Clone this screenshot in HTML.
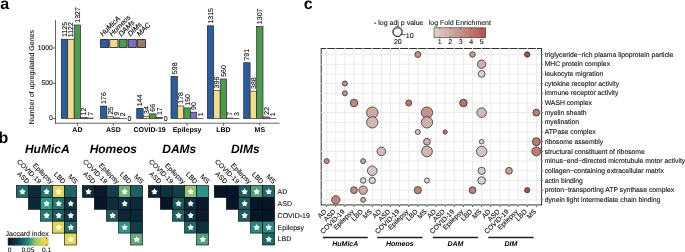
<!DOCTYPE html>
<html><head><meta charset="utf-8"><style>
html,body{margin:0;padding:0;background:#fff;}
body{width:685px;height:252px;overflow:hidden;}
svg{display:block;will-change:transform;}
text{font-family:"Liberation Sans", sans-serif;fill:#1a1a1a;text-rendering:geometricPrecision;}
.lbl{font-size:16px;font-weight:bold;fill:#000;}
.tick{font-size:6.8px;fill:#111;stroke:#111;stroke-width:0.1px;}
.bl{font-size:7px;fill:#000;stroke:#111;stroke-width:0.1px;}
.t7{font-size:7px;fill:#111;stroke:#111;stroke-width:0.1px;}
.t65{font-size:6.5px;fill:#111;stroke:#111;stroke-width:0.1px;}
.t68{font-size:6.8px;fill:#111;stroke:#111;stroke-width:0.1px;}
.xl{font-size:7px;font-weight:bold;fill:#000;}
.bt{font-size:12px;font-weight:bold;font-style:italic;fill:#000;}
.bi7{font-size:7px;font-weight:bold;font-style:italic;fill:#000;}
.it7{font-size:7.2px;font-style:italic;fill:#000;stroke:#000;stroke-width:0.12px;}
.ax{stroke:#222;stroke-width:0.7;}
.gr{stroke:#EAEAEA;stroke-width:1;}
</style></head>
<body><svg width="685" height="252" viewBox="0 0 685 252">
<text x="0.3" y="8.7" class="lbl">a</text>
<line x1="55.5" y1="20" x2="55.5" y2="123.7" class="ax"/>
<line x1="55.0" y1="123.2" x2="279.5" y2="123.2" class="ax"/>
<line x1="53" y1="118.50" x2="55.5" y2="118.50" class="ax"/>
<text x="52.8" y="120.40" class="tick" text-anchor="end">0</text>
<line x1="53" y1="83.25" x2="55.5" y2="83.25" class="ax"/>
<text x="52.8" y="85.15" class="tick" text-anchor="end">500</text>
<line x1="53" y1="48.00" x2="55.5" y2="48.00" class="ax"/>
<text x="52.8" y="49.90" class="tick" text-anchor="end">1000</text>
<text transform="translate(34.2,77.1) rotate(-90)" class="t7" text-anchor="middle">Number of upregulated Genes</text>
<line x1="77.40" y1="123.2" x2="77.40" y2="125.7" class="ax"/>
<text x="77.40" y="132.4" class="xl" text-anchor="middle">AD</text>
<rect x="61.28" y="39.19" width="6.45" height="79.31" fill="#2B5C9C" stroke="#1a1a1a" stroke-width="0.6"/>
<text transform="translate(67.00,36.99) rotate(-90)" class="bl">1125</text>
<rect x="67.73" y="39.40" width="6.45" height="79.10" fill="#F2DC8C" stroke="#1a1a1a" stroke-width="0.6"/>
<text transform="translate(73.45,37.20) rotate(-90)" class="bl">1122</text>
<rect x="74.18" y="24.95" width="6.45" height="93.55" fill="#4B9A4F" stroke="#1a1a1a" stroke-width="0.6"/>
<text transform="translate(79.90,22.75) rotate(-90)" class="bl">1327</text>
<rect x="80.62" y="117.65" width="6.45" height="0.85" fill="#7A70C2" stroke="#1a1a1a" stroke-width="0.6"/>
<text transform="translate(86.35,115.45) rotate(-90)" class="bl">12</text>
<rect x="87.08" y="118.01" width="6.45" height="0.49" fill="#9B7B6A" stroke="#1a1a1a" stroke-width="0.6"/>
<text transform="translate(92.80,115.81) rotate(-90)" class="bl">7</text>
<line x1="113.30" y1="123.2" x2="113.30" y2="125.7" class="ax"/>
<text x="113.30" y="132.4" class="xl" text-anchor="middle">ASD</text>
<rect x="100.40" y="106.09" width="6.45" height="12.41" fill="#2B5C9C" stroke="#1a1a1a" stroke-width="0.6"/>
<text transform="translate(106.12,103.89) rotate(-90)" class="bl">176</text>
<rect x="106.85" y="116.74" width="6.45" height="1.76" fill="#F2DC8C" stroke="#1a1a1a" stroke-width="0.6"/>
<text transform="translate(112.57,114.54) rotate(-90)" class="bl">25</text>
<rect x="113.30" y="117.87" width="6.45" height="0.63" fill="#4B9A4F" stroke="#1a1a1a" stroke-width="0.6"/>
<text transform="translate(119.02,115.67) rotate(-90)" class="bl">9</text>
<rect x="119.75" y="118.36" width="6.45" height="0.14" fill="#7A70C2" stroke="#1a1a1a" stroke-width="0.6"/>
<text transform="translate(125.47,116.16) rotate(-90)" class="bl">2</text>
<text x="129.50" y="120.90" class="bl" text-anchor="middle">0</text>
<line x1="149.60" y1="123.2" x2="149.60" y2="125.7" class="ax"/>
<text x="149.60" y="132.4" class="xl" text-anchor="middle">COVID-19</text>
<rect x="136.70" y="108.35" width="6.45" height="10.15" fill="#2B5C9C" stroke="#1a1a1a" stroke-width="0.6"/>
<text transform="translate(142.42,106.15) rotate(-90)" class="bl">144</text>
<rect x="143.15" y="116.10" width="6.45" height="2.40" fill="#F2DC8C" stroke="#1a1a1a" stroke-width="0.6"/>
<text transform="translate(148.87,113.90) rotate(-90)" class="bl">34</text>
<rect x="149.60" y="113.85" width="6.45" height="4.65" fill="#4B9A4F" stroke="#1a1a1a" stroke-width="0.6"/>
<text transform="translate(155.32,111.65) rotate(-90)" class="bl">66</text>
<rect x="156.05" y="117.30" width="6.45" height="1.20" fill="#7A70C2" stroke="#1a1a1a" stroke-width="0.6"/>
<text transform="translate(161.77,115.10) rotate(-90)" class="bl">17</text>
<text x="165.80" y="120.90" class="bl" text-anchor="middle">0</text>
<line x1="187.10" y1="123.2" x2="187.10" y2="125.7" class="ax"/>
<text x="187.10" y="132.4" class="xl" text-anchor="middle">Epilepsy</text>
<rect x="170.97" y="76.34" width="6.45" height="42.16" fill="#2B5C9C" stroke="#1a1a1a" stroke-width="0.6"/>
<text transform="translate(176.70,74.14) rotate(-90)" class="bl">598</text>
<rect x="177.42" y="105.95" width="6.45" height="12.55" fill="#F2DC8C" stroke="#1a1a1a" stroke-width="0.6"/>
<text transform="translate(183.15,103.75) rotate(-90)" class="bl">178</text>
<rect x="183.88" y="107.92" width="6.45" height="10.57" fill="#4B9A4F" stroke="#1a1a1a" stroke-width="0.6"/>
<text transform="translate(189.60,105.72) rotate(-90)" class="bl">150</text>
<rect x="190.32" y="112.16" width="6.45" height="6.34" fill="#7A70C2" stroke="#1a1a1a" stroke-width="0.6"/>
<text transform="translate(196.05,109.95) rotate(-90)" class="bl">90</text>
<rect x="196.78" y="118.43" width="6.45" height="0.07" fill="#9B7B6A" stroke="#1a1a1a" stroke-width="0.6"/>
<text transform="translate(202.50,116.23) rotate(-90)" class="bl">1</text>
<line x1="223.40" y1="123.2" x2="223.40" y2="125.7" class="ax"/>
<text x="223.40" y="132.4" class="xl" text-anchor="middle">LBD</text>
<rect x="207.28" y="25.79" width="6.45" height="92.71" fill="#2B5C9C" stroke="#1a1a1a" stroke-width="0.6"/>
<text transform="translate(213.00,23.59) rotate(-90)" class="bl">1315</text>
<rect x="213.72" y="90.58" width="6.45" height="27.92" fill="#F2DC8C" stroke="#1a1a1a" stroke-width="0.6"/>
<text transform="translate(219.45,88.38) rotate(-90)" class="bl">396</text>
<rect x="220.18" y="79.02" width="6.45" height="39.48" fill="#4B9A4F" stroke="#1a1a1a" stroke-width="0.6"/>
<text transform="translate(225.90,76.82) rotate(-90)" class="bl">560</text>
<rect x="226.62" y="118.01" width="6.45" height="0.49" fill="#7A70C2" stroke="#1a1a1a" stroke-width="0.6"/>
<text transform="translate(232.35,115.81) rotate(-90)" class="bl">7</text>
<rect x="233.08" y="118.29" width="6.45" height="0.21" fill="#9B7B6A" stroke="#1a1a1a" stroke-width="0.6"/>
<text transform="translate(238.80,116.09) rotate(-90)" class="bl">3</text>
<line x1="259.80" y1="123.2" x2="259.80" y2="125.7" class="ax"/>
<text x="259.80" y="132.4" class="xl" text-anchor="middle">MS</text>
<rect x="243.68" y="62.73" width="6.45" height="55.77" fill="#2B5C9C" stroke="#1a1a1a" stroke-width="0.6"/>
<text transform="translate(249.40,60.53) rotate(-90)" class="bl">791</text>
<rect x="250.12" y="91.15" width="6.45" height="27.35" fill="#F2DC8C" stroke="#1a1a1a" stroke-width="0.6"/>
<text transform="translate(255.85,88.95) rotate(-90)" class="bl">388</text>
<rect x="256.57" y="26.36" width="6.45" height="92.14" fill="#4B9A4F" stroke="#1a1a1a" stroke-width="0.6"/>
<text transform="translate(262.30,24.16) rotate(-90)" class="bl">1307</text>
<rect x="263.03" y="116.95" width="6.45" height="1.55" fill="#7A70C2" stroke="#1a1a1a" stroke-width="0.6"/>
<text transform="translate(268.75,114.75) rotate(-90)" class="bl">22</text>
<rect x="269.48" y="118.43" width="6.45" height="0.07" fill="#9B7B6A" stroke="#1a1a1a" stroke-width="0.6"/>
<text transform="translate(275.20,116.23) rotate(-90)" class="bl">1</text>
<rect x="100.60" y="39.6" width="8.1" height="7.8" fill="#2B5C9C" stroke="#1a1a1a" stroke-width="0.8"/>
<text transform="translate(102.80,36.8) rotate(-45)" class="it7">HuMicA</text>
<rect x="109.80" y="39.6" width="8.1" height="7.8" fill="#F2DC8C" stroke="#1a1a1a" stroke-width="0.8"/>
<text transform="translate(112.00,36.8) rotate(-45)" class="it7">Homeos</text>
<rect x="119.00" y="39.6" width="8.1" height="7.8" fill="#4B9A4F" stroke="#1a1a1a" stroke-width="0.8"/>
<text transform="translate(121.20,36.8) rotate(-45)" class="it7">DAMs</text>
<rect x="128.20" y="39.6" width="8.1" height="7.8" fill="#7A70C2" stroke="#1a1a1a" stroke-width="0.8"/>
<text transform="translate(130.40,36.8) rotate(-45)" class="it7">DIMs</text>
<rect x="137.40" y="39.6" width="8.1" height="7.8" fill="#9B7B6A" stroke="#1a1a1a" stroke-width="0.8"/>
<text transform="translate(139.60,36.8) rotate(-45)" class="it7">MAC</text>
<text x="-1.5" y="143.1" class="lbl">b</text>
<text x="47.30" y="152.8" class="bt" text-anchor="middle">HuMicA</text>
<text transform="translate(26.64,184.2) rotate(45)" class="t68" text-anchor="end">ASD</text>
<text transform="translate(38.70,184.2) rotate(45)" class="t68" text-anchor="end">COVID-19</text>
<text transform="translate(50.77,184.2) rotate(45)" class="t68" text-anchor="end">Epilepsy</text>
<text transform="translate(62.84,184.2) rotate(45)" class="t68" text-anchor="end">LBD</text>
<text transform="translate(74.91,184.2) rotate(45)" class="t68" text-anchor="end">MS</text>
<rect x="16.30" y="185.50" width="12.07" height="11.9" fill="#1F6E6A" stroke="#000" stroke-width="0.6"/>
<polygon points="22.48,188.35 23.58,190.29 25.77,190.73 24.26,192.38 24.51,194.59 22.48,193.66 20.46,194.59 20.71,192.38 19.20,190.73 21.39,190.29" fill="#fff"/>
<rect x="28.37" y="185.50" width="12.07" height="11.9" fill="#0C2A3A" stroke="#000" stroke-width="0.6"/>
<rect x="40.44" y="185.50" width="12.07" height="11.9" fill="#1F716D" stroke="#000" stroke-width="0.6"/>
<polygon points="46.62,188.35 47.72,190.29 49.91,190.73 48.40,192.38 48.65,194.59 46.62,193.66 44.60,194.59 44.85,192.38 43.34,190.73 45.53,190.29" fill="#fff"/>
<rect x="52.51" y="185.50" width="12.07" height="11.9" fill="#DED856" stroke="#000" stroke-width="0.6"/>
<polygon points="58.70,188.35 59.79,190.29 61.98,190.73 60.47,192.38 60.72,194.59 58.70,193.66 56.67,194.59 56.92,192.38 55.41,190.73 57.60,190.29" fill="#fff"/>
<rect x="64.58" y="185.50" width="12.07" height="11.9" fill="#1E6663" stroke="#000" stroke-width="0.6"/>
<rect x="28.37" y="197.40" width="12.07" height="11.9" fill="#0B2838" stroke="#000" stroke-width="0.6"/>
<rect x="40.44" y="197.40" width="12.07" height="11.9" fill="#2F9A8A" stroke="#000" stroke-width="0.6"/>
<polygon points="46.62,200.25 47.72,202.19 49.91,202.63 48.40,204.28 48.65,206.49 46.62,205.56 44.60,206.49 44.85,204.28 43.34,202.63 45.53,202.19" fill="#fff"/>
<rect x="52.51" y="197.40" width="12.07" height="11.9" fill="#237570" stroke="#000" stroke-width="0.6"/>
<polygon points="58.70,200.25 59.79,202.19 61.98,202.63 60.47,204.28 60.72,206.49 58.70,205.56 56.67,206.49 56.92,204.28 55.41,202.63 57.60,202.19" fill="#fff"/>
<rect x="64.58" y="197.40" width="12.07" height="11.9" fill="#123544" stroke="#000" stroke-width="0.6"/>
<polygon points="70.77,200.25 71.86,202.19 74.05,202.63 72.54,204.28 72.79,206.49 70.77,205.56 68.74,206.49 68.99,204.28 67.48,202.63 69.67,202.19" fill="#fff"/>
<rect x="40.44" y="209.30" width="12.07" height="11.9" fill="#237A73" stroke="#000" stroke-width="0.6"/>
<polygon points="46.62,212.15 47.72,214.09 49.91,214.53 48.40,216.18 48.65,218.39 46.62,217.46 44.60,218.39 44.85,216.18 43.34,214.53 45.53,214.09" fill="#fff"/>
<rect x="52.51" y="209.30" width="12.07" height="11.9" fill="#1B5C5E" stroke="#000" stroke-width="0.6"/>
<polygon points="58.70,212.15 59.79,214.09 61.98,214.53 60.47,216.18 60.72,218.39 58.70,217.46 56.67,218.39 56.92,216.18 55.41,214.53 57.60,214.09" fill="#fff"/>
<rect x="64.58" y="209.30" width="12.07" height="11.9" fill="#12394A" stroke="#000" stroke-width="0.6"/>
<polygon points="70.77,212.15 71.86,214.09 74.05,214.53 72.54,216.18 72.79,218.39 70.77,217.46 68.74,218.39 68.99,216.18 67.48,214.53 69.67,214.09" fill="#fff"/>
<rect x="52.51" y="221.20" width="12.07" height="11.9" fill="#E0D650" stroke="#000" stroke-width="0.6"/>
<polygon points="58.70,224.05 59.79,225.99 61.98,226.43 60.47,228.08 60.72,230.29 58.70,229.36 56.67,230.29 56.92,228.08 55.41,226.43 57.60,225.99" fill="#fff"/>
<rect x="64.58" y="221.20" width="12.07" height="11.9" fill="#1E6B68" stroke="#000" stroke-width="0.6"/>
<polygon points="70.77,224.05 71.86,225.99 74.05,226.43 72.54,228.08 72.79,230.29 70.77,229.36 68.74,230.29 68.99,228.08 67.48,226.43 69.67,225.99" fill="#fff"/>
<rect x="64.58" y="233.10" width="12.07" height="11.9" fill="#E6D84E" stroke="#000" stroke-width="0.6"/>
<polygon points="70.77,235.95 71.86,237.89 74.05,238.33 72.54,239.98 72.79,242.19 70.77,241.26 68.74,242.19 68.99,239.98 67.48,238.33 69.67,237.89" fill="#fff"/>
<text x="113.30" y="152.8" class="bt" text-anchor="middle">Homeos</text>
<text transform="translate(92.63,184.2) rotate(45)" class="t68" text-anchor="end">ASD</text>
<text transform="translate(104.70,184.2) rotate(45)" class="t68" text-anchor="end">COVID-19</text>
<text transform="translate(116.77,184.2) rotate(45)" class="t68" text-anchor="end">Epilepsy</text>
<text transform="translate(128.84,184.2) rotate(45)" class="t68" text-anchor="end">LBD</text>
<text transform="translate(140.91,184.2) rotate(45)" class="t68" text-anchor="end">MS</text>
<rect x="82.30" y="185.50" width="12.07" height="11.9" fill="#0E2A3C" stroke="#000" stroke-width="0.6"/>
<polygon points="88.48,188.35 89.58,190.29 91.77,190.73 90.26,192.38 90.51,194.59 88.48,193.66 86.46,194.59 86.71,192.38 85.20,190.73 87.39,190.29" fill="#fff"/>
<rect x="94.37" y="185.50" width="12.07" height="11.9" fill="#081A2C" stroke="#000" stroke-width="0.6"/>
<rect x="106.44" y="185.50" width="12.07" height="11.9" fill="#123F4A" stroke="#000" stroke-width="0.6"/>
<rect x="118.51" y="185.50" width="12.07" height="11.9" fill="#6DB07A" stroke="#000" stroke-width="0.6"/>
<polygon points="124.69,188.35 125.79,190.29 127.98,190.73 126.47,192.38 126.72,194.59 124.69,193.66 122.67,194.59 122.92,192.38 121.41,190.73 123.60,190.29" fill="#fff"/>
<rect x="130.58" y="185.50" width="12.07" height="11.9" fill="#1D5F60" stroke="#000" stroke-width="0.6"/>
<rect x="94.37" y="197.40" width="12.07" height="11.9" fill="#071729" stroke="#000" stroke-width="0.6"/>
<rect x="106.44" y="197.40" width="12.07" height="11.9" fill="#0E2E3E" stroke="#000" stroke-width="0.6"/>
<rect x="118.51" y="197.40" width="12.07" height="11.9" fill="#103244" stroke="#000" stroke-width="0.6"/>
<polygon points="124.69,200.25 125.79,202.19 127.98,202.63 126.47,204.28 126.72,206.49 124.69,205.56 122.67,206.49 122.92,204.28 121.41,202.63 123.60,202.19" fill="#fff"/>
<rect x="130.58" y="197.40" width="12.07" height="11.9" fill="#0D2A3A" stroke="#000" stroke-width="0.6"/>
<rect x="106.44" y="209.30" width="12.07" height="11.9" fill="#1C5A5C" stroke="#000" stroke-width="0.6"/>
<polygon points="112.62,212.15 113.72,214.09 115.91,214.53 114.40,216.18 114.65,218.39 112.62,217.46 110.60,218.39 110.85,216.18 109.34,214.53 111.53,214.09" fill="#fff"/>
<rect x="118.51" y="209.30" width="12.07" height="11.9" fill="#0B2637" stroke="#000" stroke-width="0.6"/>
<rect x="130.58" y="209.30" width="12.07" height="11.9" fill="#0B2838" stroke="#000" stroke-width="0.6"/>
<rect x="118.51" y="221.20" width="12.07" height="11.9" fill="#2D9688" stroke="#000" stroke-width="0.6"/>
<polygon points="124.69,224.05 125.79,225.99 127.98,226.43 126.47,228.08 126.72,230.29 124.69,229.36 122.67,230.29 122.92,228.08 121.41,226.43 123.60,225.99" fill="#fff"/>
<rect x="130.58" y="221.20" width="12.07" height="11.9" fill="#133C48" stroke="#000" stroke-width="0.6"/>
<rect x="130.58" y="233.10" width="12.07" height="11.9" fill="#62A878" stroke="#000" stroke-width="0.6"/>
<polygon points="136.76,235.95 137.86,237.89 140.05,238.33 138.54,239.98 138.79,242.19 136.76,241.26 134.74,242.19 134.99,239.98 133.48,238.33 135.67,237.89" fill="#fff"/>
<text x="179.30" y="152.8" class="bt" text-anchor="middle">DAMs</text>
<text transform="translate(158.64,184.2) rotate(45)" class="t68" text-anchor="end">ASD</text>
<text transform="translate(170.71,184.2) rotate(45)" class="t68" text-anchor="end">COVID-19</text>
<text transform="translate(182.78,184.2) rotate(45)" class="t68" text-anchor="end">Epilepsy</text>
<text transform="translate(194.85,184.2) rotate(45)" class="t68" text-anchor="end">LBD</text>
<text transform="translate(206.92,184.2) rotate(45)" class="t68" text-anchor="end">MS</text>
<rect x="148.30" y="185.50" width="12.07" height="11.9" fill="#0C2436" stroke="#000" stroke-width="0.6"/>
<polygon points="154.49,188.35 155.58,190.29 157.77,190.73 156.26,192.38 156.51,194.59 154.49,193.66 152.46,194.59 152.71,192.38 151.20,190.73 153.39,190.29" fill="#fff"/>
<rect x="160.37" y="185.50" width="12.07" height="11.9" fill="#0F3040" stroke="#000" stroke-width="0.6"/>
<rect x="172.44" y="185.50" width="12.07" height="11.9" fill="#123F4A" stroke="#000" stroke-width="0.6"/>
<rect x="184.51" y="185.50" width="12.07" height="11.9" fill="#8EC274" stroke="#000" stroke-width="0.6"/>
<polygon points="190.70,188.35 191.79,190.29 193.98,190.73 192.47,192.38 192.72,194.59 190.70,193.66 188.67,194.59 188.92,192.38 187.41,190.73 189.60,190.29" fill="#fff"/>
<rect x="196.58" y="185.50" width="12.07" height="11.9" fill="#2A9488" stroke="#000" stroke-width="0.6"/>
<rect x="160.37" y="197.40" width="12.07" height="11.9" fill="#061629" stroke="#000" stroke-width="0.6"/>
<rect x="172.44" y="197.40" width="12.07" height="11.9" fill="#1A5558" stroke="#000" stroke-width="0.6"/>
<polygon points="178.62,200.25 179.72,202.19 181.91,202.63 180.40,204.28 180.65,206.49 178.62,205.56 176.60,206.49 176.85,204.28 175.34,202.63 177.53,202.19" fill="#fff"/>
<rect x="184.51" y="197.40" width="12.07" height="11.9" fill="#0F2F40" stroke="#000" stroke-width="0.6"/>
<polygon points="190.70,200.25 191.79,202.19 193.98,202.63 192.47,204.28 192.72,206.49 190.70,205.56 188.67,206.49 188.92,204.28 187.41,202.63 189.60,202.19" fill="#fff"/>
<rect x="196.58" y="197.40" width="12.07" height="11.9" fill="#081A2C" stroke="#000" stroke-width="0.6"/>
<rect x="172.44" y="209.30" width="12.07" height="11.9" fill="#1D6462" stroke="#000" stroke-width="0.6"/>
<polygon points="178.62,212.15 179.72,214.09 181.91,214.53 180.40,216.18 180.65,218.39 178.62,217.46 176.60,218.39 176.85,216.18 175.34,214.53 177.53,214.09" fill="#fff"/>
<rect x="184.51" y="209.30" width="12.07" height="11.9" fill="#103040" stroke="#000" stroke-width="0.6"/>
<polygon points="190.70,212.15 191.79,214.09 193.98,214.53 192.47,216.18 192.72,218.39 190.70,217.46 188.67,218.39 188.92,216.18 187.41,214.53 189.60,214.09" fill="#fff"/>
<rect x="196.58" y="209.30" width="12.07" height="11.9" fill="#081A2C" stroke="#000" stroke-width="0.6"/>
<rect x="184.51" y="221.20" width="12.07" height="11.9" fill="#1F6866" stroke="#000" stroke-width="0.6"/>
<polygon points="190.70,224.05 191.79,225.99 193.98,226.43 192.47,228.08 192.72,230.29 190.70,229.36 188.67,230.29 188.92,228.08 187.41,226.43 189.60,225.99" fill="#fff"/>
<rect x="196.58" y="221.20" width="12.07" height="11.9" fill="#0E3040" stroke="#000" stroke-width="0.6"/>
<rect x="196.58" y="233.10" width="12.07" height="11.9" fill="#4FA080" stroke="#000" stroke-width="0.6"/>
<polygon points="202.77,235.95 203.86,237.89 206.05,238.33 204.54,239.98 204.79,242.19 202.77,241.26 200.74,242.19 200.99,239.98 199.48,238.33 201.67,237.89" fill="#fff"/>
<text x="245.30" y="152.8" class="bt" text-anchor="middle">DIMs</text>
<text transform="translate(224.64,184.2) rotate(45)" class="t68" text-anchor="end">ASD</text>
<text transform="translate(236.71,184.2) rotate(45)" class="t68" text-anchor="end">COVID-19</text>
<text transform="translate(248.78,184.2) rotate(45)" class="t68" text-anchor="end">Epilepsy</text>
<text transform="translate(260.85,184.2) rotate(45)" class="t68" text-anchor="end">LBD</text>
<text transform="translate(272.92,184.2) rotate(45)" class="t68" text-anchor="end">MS</text>
<rect x="214.30" y="185.50" width="12.07" height="11.9" fill="#061629" stroke="#000" stroke-width="0.6"/>
<rect x="226.37" y="185.50" width="12.07" height="11.9" fill="#061629" stroke="#000" stroke-width="0.6"/>
<rect x="238.44" y="185.50" width="12.07" height="11.9" fill="#1D5C5E" stroke="#000" stroke-width="0.6"/>
<polygon points="244.62,188.35 245.72,190.29 247.91,190.73 246.40,192.38 246.65,194.59 244.62,193.66 242.60,194.59 242.85,192.38 241.34,190.73 243.53,190.29" fill="#fff"/>
<rect x="250.51" y="185.50" width="12.07" height="11.9" fill="#4E9E7C" stroke="#000" stroke-width="0.6"/>
<polygon points="256.69,188.35 257.79,190.29 259.98,190.73 258.47,192.38 258.72,194.59 256.69,193.66 254.67,194.59 254.92,192.38 253.41,190.73 255.60,190.29" fill="#fff"/>
<rect x="262.58" y="185.50" width="12.07" height="11.9" fill="#1F6A68" stroke="#000" stroke-width="0.6"/>
<polygon points="268.77,188.35 269.86,190.29 272.05,190.73 270.54,192.38 270.79,194.59 268.77,193.66 266.74,194.59 266.99,192.38 265.48,190.73 267.67,190.29" fill="#fff"/>
<rect x="226.37" y="197.40" width="12.07" height="11.9" fill="#061629" stroke="#000" stroke-width="0.6"/>
<rect x="238.44" y="197.40" width="12.07" height="11.9" fill="#1D5C5E" stroke="#000" stroke-width="0.6"/>
<polygon points="244.62,200.25 245.72,202.19 247.91,202.63 246.40,204.28 246.65,206.49 244.62,205.56 242.60,206.49 242.85,204.28 241.34,202.63 243.53,202.19" fill="#fff"/>
<rect x="250.51" y="197.40" width="12.07" height="11.9" fill="#061629" stroke="#000" stroke-width="0.6"/>
<rect x="262.58" y="197.40" width="12.07" height="11.9" fill="#061629" stroke="#000" stroke-width="0.6"/>
<rect x="238.44" y="209.30" width="12.07" height="11.9" fill="#1D5C5E" stroke="#000" stroke-width="0.6"/>
<polygon points="244.62,212.15 245.72,214.09 247.91,214.53 246.40,216.18 246.65,218.39 244.62,217.46 242.60,218.39 242.85,216.18 241.34,214.53 243.53,214.09" fill="#fff"/>
<rect x="250.51" y="209.30" width="12.07" height="11.9" fill="#061629" stroke="#000" stroke-width="0.6"/>
<rect x="262.58" y="209.30" width="12.07" height="11.9" fill="#061629" stroke="#000" stroke-width="0.6"/>
<rect x="250.51" y="221.20" width="12.07" height="11.9" fill="#2A8A80" stroke="#000" stroke-width="0.6"/>
<polygon points="256.69,224.05 257.79,225.99 259.98,226.43 258.47,228.08 258.72,230.29 256.69,229.36 254.67,230.29 254.92,228.08 253.41,226.43 255.60,225.99" fill="#fff"/>
<rect x="262.58" y="221.20" width="12.07" height="11.9" fill="#2A8A80" stroke="#000" stroke-width="0.6"/>
<polygon points="268.77,224.05 269.86,225.99 272.05,226.43 270.54,228.08 270.79,230.29 268.77,229.36 266.74,230.29 266.99,228.08 265.48,226.43 267.67,225.99" fill="#fff"/>
<rect x="262.58" y="233.10" width="12.07" height="11.9" fill="#1F6A68" stroke="#000" stroke-width="0.6"/>
<polygon points="268.77,235.95 269.86,237.89 272.05,238.33 270.54,239.98 270.79,242.19 268.77,241.26 266.74,242.19 266.99,239.98 265.48,238.33 267.67,237.89" fill="#fff"/>
<text x="277.6" y="193.85" class="t7">AD</text>
<text x="277.6" y="205.75" class="t7">ASD</text>
<text x="277.6" y="217.65" class="t7">COVID-19</text>
<text x="277.6" y="229.55" class="t7">Epilepsy</text>
<text x="277.6" y="241.45" class="t7">LBD</text>
<defs><linearGradient id="jac" x1="0" x2="1" y1="0" y2="0"><stop offset="0" stop-color="#07111F"/><stop offset="0.25" stop-color="#123D4A"/><stop offset="0.5" stop-color="#1E8A82"/><stop offset="0.7" stop-color="#9CCB5E"/><stop offset="0.87" stop-color="#E4D84C"/><stop offset="1" stop-color="#F6D43F"/></linearGradient><linearGradient id="lfe" x1="0" x2="1" y1="0" y2="0"><stop offset="0" stop-color="#DBD3D3"/><stop offset="1" stop-color="#B4514A"/></linearGradient></defs>
<text x="5.5" y="236.3" class="t7">Jaccard index</text>
<rect x="7.9" y="237.8" width="40.2" height="7.8" fill="url(#jac)" stroke="#999" stroke-width="0.4"/>
<text x="9.50" y="252.3" class="t65" text-anchor="middle">0</text>
<line x1="28.00" y1="237.8" x2="28.00" y2="239.2" stroke="#222" stroke-width="0.6"/>
<line x1="28.00" y1="244.2" x2="28.00" y2="245.6" stroke="#222" stroke-width="0.6"/>
<text x="28.00" y="252.3" class="t65" text-anchor="middle">0.05</text>
<line x1="46.50" y1="237.8" x2="46.50" y2="239.2" stroke="#222" stroke-width="0.6"/>
<line x1="46.50" y1="244.2" x2="46.50" y2="245.6" stroke="#222" stroke-width="0.6"/>
<text x="46.50" y="252.3" class="t65" text-anchor="middle">0.1</text>
<text x="303.8" y="8.8" class="lbl">c</text>
<text x="374" y="25" class="t7">- log adj p value</text>
<text x="428.7" y="25" class="t7">log Fold Enrichment</text>
<circle cx="397.5" cy="31.6" r="4.75" fill="none" stroke="#222" stroke-width="0.9"/>
<circle cx="397.5" cy="32.4" r="4.3" fill="none" stroke="#222" stroke-width="0.7"/>
<line x1="400.5" y1="34.6" x2="405.6" y2="34.6" stroke="#222" stroke-width="0.7"/>
<text x="405.8" y="37.8" class="t7">10</text>
<text x="397.8" y="44" class="t7" text-anchor="middle">20</text>
<rect x="434" y="27.8" width="51.6" height="10" fill="url(#lfe)" stroke="#333" stroke-width="0.6"/>
<line x1="439.80" y1="27.8" x2="439.80" y2="29.2" stroke="#333" stroke-width="0.6"/>
<line x1="439.80" y1="36.4" x2="439.80" y2="37.8" stroke="#333" stroke-width="0.6"/>
<text x="439.80" y="44" class="t7" text-anchor="middle">1</text>
<line x1="450.25" y1="27.8" x2="450.25" y2="29.2" stroke="#333" stroke-width="0.6"/>
<line x1="450.25" y1="36.4" x2="450.25" y2="37.8" stroke="#333" stroke-width="0.6"/>
<text x="450.25" y="44" class="t7" text-anchor="middle">2</text>
<line x1="460.70" y1="27.8" x2="460.70" y2="29.2" stroke="#333" stroke-width="0.6"/>
<line x1="460.70" y1="36.4" x2="460.70" y2="37.8" stroke="#333" stroke-width="0.6"/>
<text x="460.70" y="44" class="t7" text-anchor="middle">3</text>
<line x1="471.15" y1="27.8" x2="471.15" y2="29.2" stroke="#333" stroke-width="0.6"/>
<line x1="471.15" y1="36.4" x2="471.15" y2="37.8" stroke="#333" stroke-width="0.6"/>
<text x="471.15" y="44" class="t7" text-anchor="middle">4</text>
<line x1="481.60" y1="27.8" x2="481.60" y2="29.2" stroke="#333" stroke-width="0.6"/>
<line x1="481.60" y1="36.4" x2="481.60" y2="37.8" stroke="#333" stroke-width="0.6"/>
<text x="481.60" y="44" class="t7" text-anchor="middle">5</text>
<rect x="321.2" y="48.5" width="220.40" height="156.40" fill="#fff" stroke="#333" stroke-width="1"/>
<line x1="326.67" y1="48.0" x2="326.67" y2="205.4" class="gr"/>
<line x1="326.67" y1="204.9" x2="326.67" y2="207.1" class="ax"/>
<text transform="translate(326.97,212.10) rotate(-45)" class="t68" text-anchor="end">AD</text>
<line x1="335.79" y1="48.0" x2="335.79" y2="205.4" class="gr"/>
<line x1="335.79" y1="204.9" x2="335.79" y2="207.1" class="ax"/>
<text transform="translate(336.09,212.10) rotate(-45)" class="t68" text-anchor="end">ASD</text>
<line x1="344.90" y1="48.0" x2="344.90" y2="205.4" class="gr"/>
<line x1="344.90" y1="204.9" x2="344.90" y2="207.1" class="ax"/>
<text transform="translate(345.20,212.10) rotate(-45)" class="t68" text-anchor="end">COVID-19</text>
<line x1="354.02" y1="48.0" x2="354.02" y2="205.4" class="gr"/>
<line x1="354.02" y1="204.9" x2="354.02" y2="207.1" class="ax"/>
<text transform="translate(354.32,212.10) rotate(-45)" class="t68" text-anchor="end">Epilepsy</text>
<line x1="363.13" y1="48.0" x2="363.13" y2="205.4" class="gr"/>
<line x1="363.13" y1="204.9" x2="363.13" y2="207.1" class="ax"/>
<text transform="translate(363.43,212.10) rotate(-45)" class="t68" text-anchor="end">LBD</text>
<line x1="372.25" y1="48.0" x2="372.25" y2="205.4" class="gr"/>
<line x1="372.25" y1="204.9" x2="372.25" y2="207.1" class="ax"/>
<text transform="translate(372.55,212.10) rotate(-45)" class="t68" text-anchor="end">MS</text>
<line x1="381.37" y1="48.0" x2="381.37" y2="205.4" class="gr"/>
<line x1="381.37" y1="204.9" x2="381.37" y2="207.1" class="ax"/>
<text transform="translate(381.67,212.10) rotate(-45)" class="t68" text-anchor="end">AD</text>
<line x1="390.48" y1="48.0" x2="390.48" y2="205.4" class="gr"/>
<line x1="390.48" y1="204.9" x2="390.48" y2="207.1" class="ax"/>
<text transform="translate(390.78,212.10) rotate(-45)" class="t68" text-anchor="end">ASD</text>
<line x1="399.60" y1="48.0" x2="399.60" y2="205.4" class="gr"/>
<line x1="399.60" y1="204.9" x2="399.60" y2="207.1" class="ax"/>
<text transform="translate(399.90,212.10) rotate(-45)" class="t68" text-anchor="end">COVID-19</text>
<line x1="408.71" y1="48.0" x2="408.71" y2="205.4" class="gr"/>
<line x1="408.71" y1="204.9" x2="408.71" y2="207.1" class="ax"/>
<text transform="translate(409.01,212.10) rotate(-45)" class="t68" text-anchor="end">Epilepsy</text>
<line x1="417.83" y1="48.0" x2="417.83" y2="205.4" class="gr"/>
<line x1="417.83" y1="204.9" x2="417.83" y2="207.1" class="ax"/>
<text transform="translate(418.13,212.10) rotate(-45)" class="t68" text-anchor="end">LBD</text>
<line x1="426.95" y1="48.0" x2="426.95" y2="205.4" class="gr"/>
<line x1="426.95" y1="204.9" x2="426.95" y2="207.1" class="ax"/>
<text transform="translate(427.25,212.10) rotate(-45)" class="t68" text-anchor="end">MS</text>
<line x1="436.06" y1="48.0" x2="436.06" y2="205.4" class="gr"/>
<line x1="436.06" y1="204.9" x2="436.06" y2="207.1" class="ax"/>
<text transform="translate(436.36,212.10) rotate(-45)" class="t68" text-anchor="end">AD</text>
<line x1="445.18" y1="48.0" x2="445.18" y2="205.4" class="gr"/>
<line x1="445.18" y1="204.9" x2="445.18" y2="207.1" class="ax"/>
<text transform="translate(445.48,212.10) rotate(-45)" class="t68" text-anchor="end">ASD</text>
<line x1="454.29" y1="48.0" x2="454.29" y2="205.4" class="gr"/>
<line x1="454.29" y1="204.9" x2="454.29" y2="207.1" class="ax"/>
<text transform="translate(454.59,212.10) rotate(-45)" class="t68" text-anchor="end">COVID-19</text>
<line x1="463.41" y1="48.0" x2="463.41" y2="205.4" class="gr"/>
<line x1="463.41" y1="204.9" x2="463.41" y2="207.1" class="ax"/>
<text transform="translate(463.71,212.10) rotate(-45)" class="t68" text-anchor="end">Epilepsy</text>
<line x1="472.53" y1="48.0" x2="472.53" y2="205.4" class="gr"/>
<line x1="472.53" y1="204.9" x2="472.53" y2="207.1" class="ax"/>
<text transform="translate(472.83,212.10) rotate(-45)" class="t68" text-anchor="end">LBD</text>
<line x1="481.64" y1="48.0" x2="481.64" y2="205.4" class="gr"/>
<line x1="481.64" y1="204.9" x2="481.64" y2="207.1" class="ax"/>
<text transform="translate(481.94,212.10) rotate(-45)" class="t68" text-anchor="end">MS</text>
<line x1="490.76" y1="48.0" x2="490.76" y2="205.4" class="gr"/>
<line x1="490.76" y1="204.9" x2="490.76" y2="207.1" class="ax"/>
<text transform="translate(491.06,212.10) rotate(-45)" class="t68" text-anchor="end">AD</text>
<line x1="499.87" y1="48.0" x2="499.87" y2="205.4" class="gr"/>
<line x1="499.87" y1="204.9" x2="499.87" y2="207.1" class="ax"/>
<text transform="translate(500.17,212.10) rotate(-45)" class="t68" text-anchor="end">ASD</text>
<line x1="508.99" y1="48.0" x2="508.99" y2="205.4" class="gr"/>
<line x1="508.99" y1="204.9" x2="508.99" y2="207.1" class="ax"/>
<text transform="translate(509.29,212.10) rotate(-45)" class="t68" text-anchor="end">COVID-19</text>
<line x1="518.11" y1="48.0" x2="518.11" y2="205.4" class="gr"/>
<line x1="518.11" y1="204.9" x2="518.11" y2="207.1" class="ax"/>
<text transform="translate(518.41,212.10) rotate(-45)" class="t68" text-anchor="end">Epilepsy</text>
<line x1="527.22" y1="48.0" x2="527.22" y2="205.4" class="gr"/>
<line x1="527.22" y1="204.9" x2="527.22" y2="207.1" class="ax"/>
<text transform="translate(527.52,212.10) rotate(-45)" class="t68" text-anchor="end">LBD</text>
<line x1="536.34" y1="48.0" x2="536.34" y2="205.4" class="gr"/>
<line x1="536.34" y1="204.9" x2="536.34" y2="207.1" class="ax"/>
<text transform="translate(536.64,212.10) rotate(-45)" class="t68" text-anchor="end">MS</text>
<line x1="321.2" y1="54.50" x2="541.6" y2="54.50" class="gr"/>
<line x1="541.6" y1="54.50" x2="543.1" y2="54.50" class="ax"/>
<text x="544.7" y="56.65" class="t68">triglyceride−rich plasma lipoprotein particle</text>
<line x1="321.2" y1="64.19" x2="541.6" y2="64.19" class="gr"/>
<line x1="541.6" y1="64.19" x2="543.1" y2="64.19" class="ax"/>
<text x="544.7" y="66.34" class="t68">MHC protein complex</text>
<line x1="321.2" y1="73.88" x2="541.6" y2="73.88" class="gr"/>
<line x1="541.6" y1="73.88" x2="543.1" y2="73.88" class="ax"/>
<text x="544.7" y="76.03" class="t68">leukocyte migration</text>
<line x1="321.2" y1="83.57" x2="541.6" y2="83.57" class="gr"/>
<line x1="541.6" y1="83.57" x2="543.1" y2="83.57" class="ax"/>
<text x="544.7" y="85.72" class="t68">cytokine receptor activity</text>
<line x1="321.2" y1="93.26" x2="541.6" y2="93.26" class="gr"/>
<line x1="541.6" y1="93.26" x2="543.1" y2="93.26" class="ax"/>
<text x="544.7" y="95.41" class="t68">immune receptor activity</text>
<line x1="321.2" y1="102.95" x2="541.6" y2="102.95" class="gr"/>
<line x1="541.6" y1="102.95" x2="543.1" y2="102.95" class="ax"/>
<text x="544.7" y="105.10" class="t68">WASH complex</text>
<line x1="321.2" y1="112.64" x2="541.6" y2="112.64" class="gr"/>
<line x1="541.6" y1="112.64" x2="543.1" y2="112.64" class="ax"/>
<text x="544.7" y="114.79" class="t68">myelin sheath</text>
<line x1="321.2" y1="122.33" x2="541.6" y2="122.33" class="gr"/>
<line x1="541.6" y1="122.33" x2="543.1" y2="122.33" class="ax"/>
<text x="544.7" y="124.48" class="t68">myelination</text>
<line x1="321.2" y1="132.02" x2="541.6" y2="132.02" class="gr"/>
<line x1="541.6" y1="132.02" x2="543.1" y2="132.02" class="ax"/>
<text x="544.7" y="134.17" class="t68">ATPase complex</text>
<line x1="321.2" y1="141.71" x2="541.6" y2="141.71" class="gr"/>
<line x1="541.6" y1="141.71" x2="543.1" y2="141.71" class="ax"/>
<text x="544.7" y="143.86" class="t68">ribosome assembly</text>
<line x1="321.2" y1="151.40" x2="541.6" y2="151.40" class="gr"/>
<line x1="541.6" y1="151.40" x2="543.1" y2="151.40" class="ax"/>
<text x="544.7" y="153.55" class="t68">structural constituent of ribosome</text>
<line x1="321.2" y1="161.09" x2="541.6" y2="161.09" class="gr"/>
<line x1="541.6" y1="161.09" x2="543.1" y2="161.09" class="ax"/>
<text x="544.7" y="163.24" class="t68">minus−end−directed microtubule motor activity</text>
<line x1="321.2" y1="170.78" x2="541.6" y2="170.78" class="gr"/>
<line x1="541.6" y1="170.78" x2="543.1" y2="170.78" class="ax"/>
<text x="544.7" y="172.93" class="t68">collagen−containing extracellular matrix</text>
<line x1="321.2" y1="180.47" x2="541.6" y2="180.47" class="gr"/>
<line x1="541.6" y1="180.47" x2="543.1" y2="180.47" class="ax"/>
<text x="544.7" y="182.62" class="t68">actin binding</text>
<line x1="321.2" y1="190.16" x2="541.6" y2="190.16" class="gr"/>
<line x1="541.6" y1="190.16" x2="543.1" y2="190.16" class="ax"/>
<text x="544.7" y="192.31" class="t68">proton−transporting ATP synthase complex</text>
<line x1="321.2" y1="199.85" x2="541.6" y2="199.85" class="gr"/>
<line x1="541.6" y1="199.85" x2="543.1" y2="199.85" class="ax"/>
<text x="544.7" y="202.00" class="t68">dynein light intermediate chain binding</text>
<circle cx="344.90" cy="83.57" r="2.5" fill="#C18F87" stroke="#333" stroke-width="0.8"/>
<circle cx="344.90" cy="93.26" r="2.5" fill="#C18F87" stroke="#333" stroke-width="0.8"/>
<circle cx="354.02" cy="102.95" r="3.8" fill="#C08882" stroke="#333" stroke-width="0.8"/>
<circle cx="372.25" cy="112.64" r="5.7" fill="#CFACA5" stroke="#333" stroke-width="0.8"/>
<circle cx="372.25" cy="122.33" r="5.7" fill="#D4B8B2" stroke="#333" stroke-width="0.8"/>
<circle cx="381.37" cy="151.40" r="4.3" fill="#D2BBB8" stroke="#333" stroke-width="0.8"/>
<circle cx="326.67" cy="161.09" r="2.5" fill="#C18F87" stroke="#333" stroke-width="0.8"/>
<circle cx="363.13" cy="161.09" r="2.5" fill="#CAA49E" stroke="#333" stroke-width="0.8"/>
<circle cx="372.25" cy="170.78" r="4.8" fill="#D4C4C2" stroke="#333" stroke-width="0.8"/>
<circle cx="363.13" cy="180.47" r="2.8" fill="#D7D1CF" stroke="#333" stroke-width="0.8"/>
<circle cx="372.25" cy="180.47" r="3.2" fill="#D7D1CF" stroke="#333" stroke-width="0.8"/>
<circle cx="354.02" cy="190.16" r="3.4" fill="#C08B84" stroke="#333" stroke-width="0.8"/>
<circle cx="363.13" cy="190.16" r="4.2" fill="#CFA9A3" stroke="#333" stroke-width="0.8"/>
<circle cx="335.79" cy="199.85" r="4.2" fill="#BE847D" stroke="#333" stroke-width="0.8"/>
<circle cx="363.13" cy="199.85" r="2.5" fill="#CFACA7" stroke="#333" stroke-width="0.8"/>
<circle cx="417.83" cy="54.50" r="3.0" fill="#C18D85" stroke="#333" stroke-width="0.8"/>
<circle cx="408.71" cy="102.95" r="3.0" fill="#BA756C" stroke="#333" stroke-width="0.8"/>
<circle cx="426.95" cy="112.64" r="5.7" fill="#C6938C" stroke="#333" stroke-width="0.8"/>
<circle cx="426.95" cy="122.33" r="5.7" fill="#CFAEA8" stroke="#333" stroke-width="0.8"/>
<circle cx="417.83" cy="132.02" r="2.5" fill="#D9C2BE" stroke="#333" stroke-width="0.8"/>
<circle cx="445.18" cy="132.02" r="2.1" fill="#BB7268" stroke="#333" stroke-width="0.8"/>
<circle cx="426.95" cy="141.71" r="3.4" fill="#D1AFAA" stroke="#333" stroke-width="0.8"/>
<circle cx="426.95" cy="151.40" r="5.4" fill="#D2B6B2" stroke="#333" stroke-width="0.8"/>
<circle cx="426.95" cy="180.47" r="2.5" fill="#DBD3D1" stroke="#333" stroke-width="0.8"/>
<circle cx="417.83" cy="190.16" r="3.6" fill="#BD837B" stroke="#333" stroke-width="0.8"/>
<circle cx="472.53" cy="54.50" r="2.8" fill="#C8968F" stroke="#333" stroke-width="0.8"/>
<circle cx="481.64" cy="64.19" r="4.2" fill="#D1AFAA" stroke="#333" stroke-width="0.8"/>
<circle cx="481.64" cy="73.88" r="3.4" fill="#D7D4D3" stroke="#333" stroke-width="0.8"/>
<circle cx="463.41" cy="102.95" r="3.8" fill="#B67169" stroke="#333" stroke-width="0.8"/>
<circle cx="481.64" cy="112.64" r="4.8" fill="#D0BAB7" stroke="#333" stroke-width="0.8"/>
<circle cx="481.64" cy="141.71" r="2.3" fill="#D8CBC8" stroke="#333" stroke-width="0.8"/>
<circle cx="481.64" cy="151.40" r="5.2" fill="#D4C5C2" stroke="#333" stroke-width="0.8"/>
<circle cx="481.64" cy="170.78" r="3.6" fill="#D5CFCE" stroke="#333" stroke-width="0.8"/>
<circle cx="481.64" cy="180.47" r="3.8" fill="#D7D2D1" stroke="#333" stroke-width="0.8"/>
<circle cx="472.53" cy="190.16" r="3.4" fill="#BD8179" stroke="#333" stroke-width="0.8"/>
<circle cx="527.22" cy="54.50" r="2.7" fill="#A44E43" stroke="#333" stroke-width="0.8"/>
<circle cx="536.34" cy="112.64" r="3.4" fill="#B87E75" stroke="#333" stroke-width="0.8"/>
<circle cx="536.34" cy="141.71" r="4.0" fill="#BB7971" stroke="#333" stroke-width="0.8"/>
<circle cx="536.34" cy="151.40" r="4.5" fill="#BC7D77" stroke="#333" stroke-width="0.8"/>
<circle cx="508.99" cy="170.78" r="3.4" fill="#C89D96" stroke="#333" stroke-width="0.8"/>
<circle cx="527.22" cy="190.16" r="2.6" fill="#A45045" stroke="#333" stroke-width="0.8"/>
<line x1="322.8" y1="237.6" x2="367.8" y2="237.6" stroke="#222" stroke-width="1.5"/>
<text x="345.30" y="245.9" class="bi7" text-anchor="middle">HuMicA</text>
<line x1="377.2" y1="237.6" x2="422.5" y2="237.6" stroke="#222" stroke-width="1.5"/>
<text x="399.85" y="245.9" class="bi7" text-anchor="middle">Homeos</text>
<line x1="432.8" y1="237.6" x2="478" y2="237.6" stroke="#222" stroke-width="1.5"/>
<text x="455.40" y="245.9" class="bi7" text-anchor="middle">DAM</text>
<line x1="488.3" y1="237.6" x2="533.6" y2="237.6" stroke="#222" stroke-width="1.5"/>
<text x="510.95" y="245.9" class="bi7" text-anchor="middle">DIM</text>
</svg></body></html>
